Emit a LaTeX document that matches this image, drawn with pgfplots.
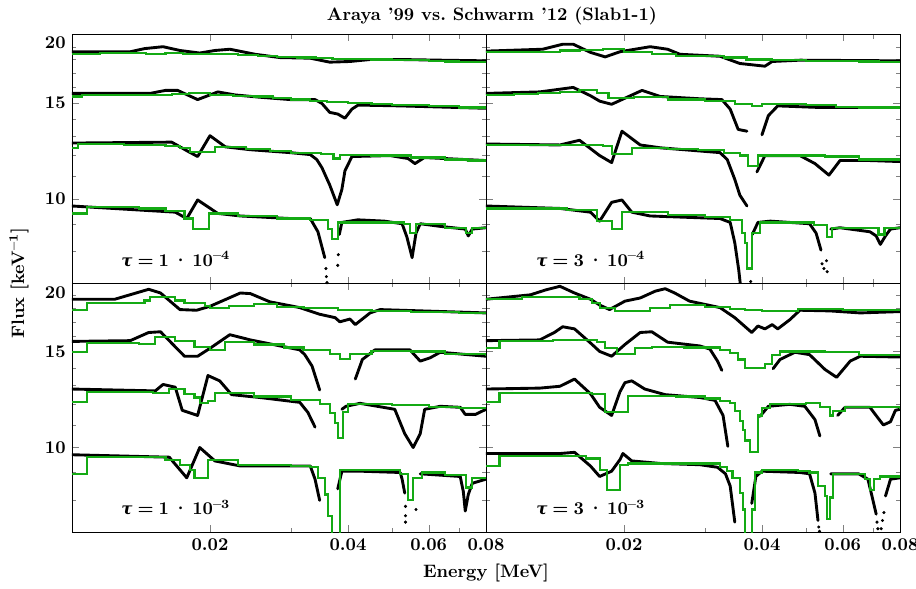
\documentclass[border=0pt]{standalone}
\usepackage{fontspec}
\usepackage{pgfplots}
\pgfplotsset{compat=1.18}
\newfontfamily\gkfont[Scale=0.92]{DejaVu Serif}
\definecolor{sgreen}{RGB}{20,170,20}

\tikzset{
  blk/.style={black, line width=1.6pt, line join=round, line cap=round},
  grn/.style={sgreen, line width=1.2pt},
  dts/.style={black, mark=*, mark size=0.65pt},
}
\newcommand{\taulab}[2]{{\gkfont\bfseries\itshape τ}\hspace{0.28em}\textbf{=}\hspace{0.28em}\textbf{#1}\hspace{0.2em}\textbf{·}\hspace{0.2em}\textbf{10\textsuperscript{–#2}}}

\begin{document}
\begin{tikzpicture}

% ---------- top left: tau = 1e-4
\begin{axis}[at={(40pt,169.3pt)}, anchor=south west,
    scale only axis, width=230pt, height=138.2pt,
    xmode=log, ymode=log, xmin=0.01, xmax=0.08, ymin=7, ymax=20,
    xtick={0.02,0.04,0.06,0.08}, minor xtick={0.03,0.05,0.07},
    ytick={10,15,20}, minor ytick={7,8,9,11,12,13,14,16,17,18,19},
    tick align=inside, major tick length=3.7pt, minor tick length=2.2pt,
    xticklabels={}, yticklabels={\textbf{10},\textbf{15},{}}]
\addplot[blk, no marks] coordinates {(0.0100,18.6) (0.0134,18.6) (0.0144,18.85) (0.0158,19.0) (0.0172,18.7) (0.0190,18.5) (0.0205,18.7) (0.0221,18.8) (0.0251,18.4) (0.0284,18.15) (0.0331,18.1) (0.0365,17.8) (0.0404,17.85) (0.0447,18.0) (0.0520,18.0) (0.0636,17.95) (0.0800,17.9)};
\addplot[grn, const plot, no marks] coordinates {(0.0100,18.45) (0.0115,18.5) (0.0130,18.5) (0.0145,18.45) (0.0160,18.5) (0.0175,18.45) (0.0190,18.45) (0.0210,18.4) (0.0230,18.35) (0.0255,18.3) (0.0280,18.2) (0.0310,18.15) (0.0340,18.1) (0.0370,18.05) (0.0400,18.05) (0.0450,18.0) (0.0500,17.95) (0.0550,17.95) (0.0600,17.9) (0.0650,17.85) (0.0700,17.8) (0.0750,17.8) (0.0800,17.75)};
\addplot[blk, no marks] coordinates {(0.0100,15.6) (0.0148,15.6) (0.0160,15.8) (0.0170,15.8) (0.0188,15.2) (0.0200,15.5) (0.0208,15.7) (0.0227,15.5) (0.0257,15.35) (0.0299,15.2) (0.0339,15.2) (0.0351,14.95) (0.0365,14.4) (0.0380,14.3) (0.0394,14.05) (0.0408,14.6) (0.0421,14.85) (0.0520,14.8) (0.0800,14.65)};
\addplot[grn, const plot, no marks] coordinates {(0.0100,15.4) (0.0105,15.5) (0.0130,15.5) (0.0150,15.5) (0.0165,15.55) (0.0180,15.6) (0.0200,15.5) (0.0225,15.45) (0.0250,15.4) (0.0275,15.3) (0.0300,15.2) (0.0330,15.1) (0.0360,15.05) (0.0400,15.0) (0.0450,14.9) (0.0500,14.85) (0.0600,14.8) (0.0700,14.7) (0.0800,14.6)};
\addplot[blk, no marks] coordinates {(0.0100,12.65) (0.0165,12.7) (0.0178,12.25) (0.0188,11.95) (0.0200,13.05) (0.0216,12.45) (0.0245,12.3) (0.0299,12.15) (0.0331,12.05) (0.0342,11.8) (0.0351,11.4) (0.0365,10.6) (0.0379,9.75) (0.0388,10.4) (0.0394,11.25) (0.0408,11.95) (0.0494,12.0) (0.0541,11.85) (0.0560,11.6) (0.0587,11.9) (0.0800,11.75)};
\addplot[grn, const plot, no marks] coordinates {(0.0100,12.4) (0.0103,12.6) (0.0130,12.55) (0.0160,12.5) (0.0172,12.4) (0.0181,12.2) (0.0205,12.45) (0.0240,12.35) (0.0270,12.25) (0.0300,12.15) (0.0350,12.1) (0.0372,11.85) (0.0385,12.05) (0.0450,12.0) (0.0550,11.9) (0.0650,11.8) (0.0730,11.75) (0.0800,11.7)};
\addplot[blk, no marks] coordinates {(0.0100,9.7) (0.0168,9.45) (0.0178,9.2) (0.0188,9.95) (0.0208,9.4) (0.0233,9.3) (0.0299,9.2) (0.0331,9.2) (0.0344,8.7) (0.0356,7.8)};
\addplot[blk, no marks] coordinates {(0.0383,8.6) (0.0388,9.05) (0.0420,9.15) (0.0480,9.1) (0.0525,9.0) (0.0538,8.5) (0.0552,7.8) (0.0563,8.65) (0.0575,9.0) (0.0636,8.9) (0.0721,8.8) (0.0732,8.55) (0.0747,8.8) (0.0800,8.85)};
\addplot[dts, only marks] coordinates {(0.0358,7.45) (0.0359,7.2) (0.0360,7.02) (0.0380,7.55) (0.0381,7.9)};
\addplot[grn, const plot, no marks] coordinates {(0.0100,9.4) (0.0108,9.65) (0.0140,9.6) (0.0160,9.5) (0.0176,9.2) (0.0184,8.8) (0.0199,9.4) (0.0230,9.3) (0.0280,9.2) (0.0330,9.15) (0.0362,8.8) (0.0369,8.45) (0.0380,9.05) (0.0450,9.05) (0.0530,9.0) (0.0546,8.65) (0.0563,9.0) (0.0650,8.85) (0.0725,8.65) (0.0745,8.85) (0.0800,8.8)};
\end{axis}

% ---------- top right: tau = 3e-4
\begin{axis}[at={(270pt,169.3pt)}, anchor=south west,
    scale only axis, width=230pt, height=138.2pt,
    xmode=log, ymode=log, xmin=0.01, xmax=0.08, ymin=7, ymax=20,
    xtick={0.02,0.04,0.06,0.08}, minor xtick={0.03,0.05,0.07},
    ytick={10,15,20}, minor ytick={7,8,9,11,12,13,14,16,17,18,19},
    tick align=inside, major tick length=3.7pt, minor tick length=2.2pt,
    xticklabels={}, yticklabels={}]
\addplot[blk, no marks] coordinates {(0.0100,18.65) (0.0133,18.8) (0.0147,19.2) (0.0155,19.2) (0.0169,18.55) (0.0182,18.2) (0.0196,18.6) (0.0228,19.0) (0.0249,18.8) (0.0265,18.4) (0.0324,18.25) (0.0358,17.7) (0.0406,17.5) (0.0421,17.85) (0.0484,17.95) (0.0800,17.9)};
\addplot[grn, const plot, no marks] coordinates {(0.0100,18.6) (0.0115,18.6) (0.0130,18.6) (0.0145,18.7) (0.0160,18.75) (0.0180,18.8) (0.0200,18.55) (0.0230,18.4) (0.0260,18.3) (0.0290,18.25) (0.0330,18.15) (0.0370,18.0) (0.0420,17.95) (0.0500,17.9) (0.0580,17.9) (0.0650,17.85) (0.0720,17.8) (0.0800,17.8)};
\addplot[blk, no marks] coordinates {(0.0100,15.6) (0.0131,15.7) (0.0155,16.0) (0.0169,15.45) (0.0177,15.1) (0.0188,14.9) (0.0219,15.8) (0.0240,15.4) (0.0293,15.25) (0.0327,15.2) (0.0341,14.6) (0.0355,13.4) (0.0371,13.3)};
\addplot[blk, no marks] coordinates {(0.0400,13.1) (0.0413,14.2) (0.0433,14.8) (0.0535,14.7) (0.0800,14.7)};
\addplot[grn, const plot, no marks] coordinates {(0.0100,15.5) (0.0115,15.55) (0.0130,15.6) (0.0145,15.7) (0.0160,15.8) (0.0175,15.6) (0.0185,15.3) (0.0210,15.35) (0.0250,15.2) (0.0300,15.1) (0.0350,14.9) (0.0380,14.8) (0.0400,14.9) (0.0450,14.9) (0.0500,14.85) (0.0580,14.75) (0.0650,14.7) (0.0800,14.65)};
\addplot[blk, no marks] coordinates {(0.0100,12.6) (0.0145,12.55) (0.0160,12.8) (0.0177,12.0) (0.0188,11.65) (0.0198,13.3) (0.0217,12.55) (0.0240,12.4) (0.0324,12.15) (0.0336,11.8) (0.0349,10.85) (0.0358,10.15) (0.0371,9.7)};
\addplot[blk, no marks] coordinates {(0.0390,11.2) (0.0406,12.0) (0.0484,12.0) (0.0522,11.6) (0.0560,11.05) (0.0592,11.75) (0.0688,11.75) (0.0800,11.7)};
\addplot[grn, const plot, no marks] coordinates {(0.0100,12.55) (0.0125,12.55) (0.0150,12.55) (0.0180,12.5) (0.0188,12.1) (0.0208,12.4) (0.0250,12.35) (0.0290,12.3) (0.0330,12.15) (0.0358,12.0) (0.0373,11.5) (0.0392,12.0) (0.0450,12.0) (0.0550,11.95) (0.0650,11.8) (0.0800,11.75)};
\addplot[blk, no marks] coordinates {(0.0100,9.7) (0.0145,9.6) (0.0169,9.45) (0.0177,9.1) (0.0188,9.85) (0.0198,9.95) (0.0208,9.45) (0.0228,9.3) (0.0324,9.2) (0.0341,9.05) (0.0349,8.3) (0.0356,7.4) (0.0360,6.8)};
\addplot[blk, no marks] coordinates {(0.0381,8.6) (0.0392,9.05) (0.0417,9.1) (0.0508,9.0) (0.0525,8.65) (0.0538,8.05)};
\addplot[blk, no marks] coordinates {(0.0565,8.8) (0.0592,8.85) (0.0688,8.7) (0.0710,8.55) (0.0725,8.25) (0.0744,8.55) (0.0763,8.8) (0.0800,8.85)};
\addplot[dts, only marks] coordinates {(0.0378,7.05) (0.0541,7.6) (0.0546,7.45) (0.0553,7.7) (0.0555,7.35)};
\addplot[grn, const plot, no marks] coordinates {(0.0100,9.6) (0.0150,9.55) (0.0175,9.1) (0.0188,8.8) (0.0198,9.45) (0.0250,9.35) (0.0300,9.25) (0.0340,9.15) (0.0362,8.65) (0.0367,8.3) (0.0371,7.45) (0.0380,8.65) (0.0396,9.05) (0.0450,9.05) (0.0520,8.95) (0.0555,8.5) (0.0569,8.85) (0.0650,8.85) (0.0718,8.6) (0.0740,8.85) (0.0800,8.85)};
\end{axis}

% ---------- bottom left: tau = 1e-3
\begin{axis}[at={(40pt,31.1pt)}, anchor=south west,
    scale only axis, width=230pt, height=138.2pt,
    xmode=log, ymode=log, xmin=0.01, xmax=0.08, ymin=7, ymax=20,
    xtick={0.02,0.04,0.06,0.08}, minor xtick={0.03,0.05,0.07},
    ytick={10,15,20}, minor ytick={7,8,9,11,12,13,14,16,17,18,19},
    tick align=inside, major tick length=3.7pt, minor tick length=2.2pt,
    xticklabels={\textbf{0.02},\textbf{0.04},\textbf{0.06},\textbf{0.08}},
    yticklabels={\textbf{10},\textbf{15},{}}]
\addplot[blk, no marks] coordinates {(0.0100,18.7) (0.0124,18.7) (0.0147,19.5) (0.0156,19.2) (0.0172,17.9) (0.0187,17.85) (0.0200,18.15) (0.0233,19.2) (0.0245,19.15) (0.0270,18.5) (0.0314,18.05) (0.0347,17.55) (0.0375,17.3) (0.0384,17.0) (0.0404,17.2) (0.0415,16.8) (0.0447,17.65) (0.0470,17.9) (0.0800,17.65)};
\addplot[grn, const plot, no marks] coordinates {(0.0100,17.9) (0.0108,18.4) (0.0130,18.4) (0.0144,18.6) (0.0148,18.85) (0.0168,18.6) (0.0176,18.4) (0.0195,18.2) (0.0200,18.0) (0.0220,18.2) (0.0250,18.35) (0.0280,18.1) (0.0320,18.0) (0.0380,17.9) (0.0450,17.8) (0.0550,17.75) (0.0700,17.65) (0.0800,17.65)};
\addplot[blk, no marks] coordinates {(0.0100,15.65) (0.0134,15.7) (0.0147,16.25) (0.0156,16.3) (0.0176,14.7) (0.0188,14.7) (0.0200,15.2) (0.0221,16.1) (0.0245,15.75) (0.0314,15.1) (0.0322,14.8) (0.0334,14.1) (0.0347,12.75)};
\addplot[blk, no marks] coordinates {(0.0415,13.35) (0.0430,14.5) (0.0458,15.1) (0.0546,15.1) (0.0575,14.4) (0.0604,14.6) (0.0636,14.95) (0.0800,14.7)};
\addplot[grn, const plot, no marks] coordinates {(0.0100,14.95) (0.0108,15.55) (0.0140,15.5) (0.0152,15.95) (0.0168,15.7) (0.0185,15.3) (0.0200,15.1) (0.0216,15.6) (0.0250,15.45) (0.0290,15.25) (0.0320,15.1) (0.0365,14.85) (0.0384,14.55) (0.0404,14.85) (0.0450,15.05) (0.0550,15.0) (0.0650,14.85) (0.0800,14.7)};
\addplot[blk, no marks] coordinates {(0.0100,12.8) (0.0152,12.7) (0.0158,13.05) (0.0168,12.9) (0.0174,11.7) (0.0188,11.45) (0.0198,13.55) (0.0210,13.25) (0.0223,12.5) (0.0257,12.35) (0.0314,12.1) (0.0327,11.6) (0.0339,10.9)};
\addplot[blk, no marks] coordinates {(0.0388,11.75) (0.0396,11.9) (0.0425,12.05) (0.0506,11.75) (0.0532,10.6) (0.0555,10.0) (0.0575,10.6) (0.0588,11.75) (0.0636,11.9) (0.0703,11.85) (0.0721,11.5) (0.0759,11.5) (0.0800,11.75)};
\addplot[grn, const plot, no marks] coordinates {(0.0100,12.1) (0.0108,12.65) (0.0150,12.6) (0.0163,12.8) (0.0176,12.55) (0.0185,12.35) (0.0190,12.05) (0.0198,12.15) (0.0205,12.6) (0.0250,12.4) (0.0300,12.2) (0.0347,12.0) (0.0365,11.55) (0.0375,11.1) (0.0380,10.4) (0.0390,11.6) (0.0400,12.0) (0.0500,11.95) (0.0600,11.85) (0.0700,11.8) (0.0800,11.8)};
\addplot[blk, no marks] coordinates {(0.0100,9.7) (0.0163,9.6) (0.0178,8.8) (0.0190,10.0) (0.0205,9.45) (0.0233,9.25) (0.0331,9.25) (0.0339,8.75) (0.0347,8.0)};
\addplot[blk, no marks] coordinates {(0.0380,8.4) (0.0388,9.05) (0.0425,9.05) (0.0520,9.0) (0.0525,8.75) (0.0532,8.25)};
\addplot[blk, no marks] coordinates {(0.0575,8.95) (0.0703,8.85) (0.0714,8.3) (0.0721,7.65) (0.0732,8.2) (0.0747,8.6) (0.0800,8.75)};
\addplot[dts, only marks] coordinates {(0.0534,7.8) (0.0534,7.5) (0.0534,7.3) (0.0563,7.7)};
\addplot[grn, const plot, no marks] coordinates {(0.0100,8.95) (0.0108,9.6) (0.0160,9.5) (0.0172,9.3) (0.0181,9.1) (0.0185,8.8) (0.0198,9.5) (0.0230,9.3) (0.0300,9.25) (0.0330,9.2) (0.0344,8.8) (0.0356,8.2) (0.0362,7.5) (0.0369,6.5) (0.0384,9.1) (0.0450,9.1) (0.0520,8.95) (0.0541,8.0) (0.0555,8.8) (0.0580,9.0) (0.0650,8.9) (0.0725,8.45) (0.0747,8.8) (0.0800,8.75)};
\end{axis}

% ---------- bottom right: tau = 3e-3
\begin{axis}[at={(270pt,31.1pt)}, anchor=south west,
    scale only axis, width=230pt, height=138.2pt,
    xmode=log, ymode=log, xmin=0.01, xmax=0.08, ymin=7, ymax=20,
    xtick={0.02,0.04,0.06,0.08}, minor xtick={0.03,0.05,0.07},
    ytick={10,15,20}, minor ytick={7,8,9,11,12,13,14,16,17,18,19},
    tick align=inside, major tick length=3.7pt, minor tick length=2.2pt,
    xticklabels={\textbf{0.02},\textbf{0.04},\textbf{0.06},\textbf{0.08}},
    yticklabels={}]
\addplot[blk, no marks] coordinates {(0.0100,18.7) (0.0125,19.05) (0.0135,19.45) (0.0145,19.75) (0.0156,19.2) (0.0169,18.7) (0.0177,18.25) (0.0186,17.9) (0.0201,18.55) (0.0217,18.8) (0.0234,19.35) (0.0246,19.55) (0.0258,19.2) (0.0278,18.55) (0.0324,18.05) (0.0349,17.3) (0.0380,16.25) (0.0392,16.7) (0.0406,16.5) (0.0421,16.8) (0.0433,16.5) (0.0460,17.15) (0.0484,17.85) (0.0563,17.8) (0.0655,17.65) (0.0800,17.75)};
\addplot[grn, const plot, no marks] coordinates {(0.0100,18.7) (0.0120,18.85) (0.0140,18.9) (0.0160,18.75) (0.0170,18.4) (0.0177,18.05) (0.0191,17.8) (0.0228,18.05) (0.0252,18.25) (0.0300,18.1) (0.0340,17.95) (0.0367,17.85) (0.0400,17.8) (0.0480,17.95) (0.0600,17.85) (0.0800,17.8)};
\addplot[blk, no marks] coordinates {(0.0100,15.7) (0.0131,15.75) (0.0141,16.25) (0.0147,16.65) (0.0156,16.5) (0.0169,15.55) (0.0177,15.0) (0.0188,14.7) (0.0201,15.45) (0.0217,16.25) (0.0230,16.3) (0.0249,15.6) (0.0293,15.35) (0.0308,15.15) (0.0320,14.4) (0.0327,13.85)};
\addplot[blk, no marks] coordinates {(0.0423,13.95) (0.0438,14.5) (0.0472,14.95) (0.0508,14.8) (0.0549,13.9) (0.0582,13.45) (0.0623,14.4) (0.0655,14.7) (0.0800,14.65)};
\addplot[grn, const plot, no marks] coordinates {(0.0100,15.2) (0.0107,15.65) (0.0140,15.75) (0.0175,15.6) (0.0182,15.2) (0.0193,14.85) (0.0211,15.2) (0.0230,15.3) (0.0270,15.25) (0.0324,15.1) (0.0341,14.9) (0.0355,14.5) (0.0367,14.0) (0.0406,14.25) (0.0421,14.8) (0.0438,15.0) (0.0550,14.95) (0.0650,14.8) (0.0800,14.7)};
\addplot[blk, no marks] coordinates {(0.0100,12.8) (0.0131,12.85) (0.0145,12.95) (0.0156,13.35) (0.0169,12.55) (0.0177,11.85) (0.0188,11.45) (0.0196,12.65) (0.0201,13.15) (0.0208,13.25) (0.0222,12.8) (0.0246,12.5) (0.0293,12.35) (0.0316,12.2) (0.0329,11.45) (0.0337,10.05)};
\addplot[blk, no marks] coordinates {(0.0396,11.4) (0.0413,11.9) (0.0460,12.0) (0.0496,11.9) (0.0522,11.25) (0.0535,10.5)};
\addplot[blk, no marks] coordinates {(0.0585,11.45) (0.0607,11.85) (0.0688,11.85) (0.0718,11.3) (0.0736,11.0) (0.0763,11.15) (0.0782,11.7) (0.0800,11.75)};
\addplot[grn, const plot, no marks] coordinates {(0.0100,12.1) (0.0107,12.6) (0.0170,12.55) (0.0182,11.6) (0.0204,12.45) (0.0260,12.4) (0.0300,12.3) (0.0324,12.15) (0.0341,12.05) (0.0349,11.65) (0.0358,11.2) (0.0364,10.75) (0.0367,10.3) (0.0376,9.8) (0.0392,11.45) (0.0400,11.8) (0.0417,12.0) (0.0500,12.05) (0.0535,11.85) (0.0563,11.45) (0.0572,11.65) (0.0607,11.85) (0.0800,11.75)};
\addplot[blk, no marks] coordinates {(0.0100,9.75) (0.0145,9.75) (0.0156,9.8) (0.0169,9.25) (0.0177,8.85) (0.0188,9.05) (0.0196,9.5) (0.0199,9.75) (0.0208,9.45) (0.0240,9.35) (0.0293,9.3) (0.0320,9.2) (0.0333,8.95) (0.0341,8.5) (0.0349,7.3)};
\addplot[blk, no marks] coordinates {(0.0380,7.9) (0.0388,8.85) (0.0400,9.05) (0.0484,9.0) (0.0508,8.95) (0.0522,8.25) (0.0530,7.35)};
\addplot[blk, no marks] coordinates {(0.0565,8.95) (0.0650,8.95) (0.0681,8.75) (0.0695,8.15) (0.0710,7.55)};
\addplot[blk, no marks] coordinates {(0.0744,8.15) (0.0763,8.75) (0.0800,8.8)};
\addplot[dts, only marks] coordinates {(0.0532,7.15) (0.0534,7.02) (0.0713,7.3) (0.0716,7.1) (0.0728,7.1) (0.0733,7.35) (0.0738,7.6)};
\addplot[grn, const plot, no marks] coordinates {(0.0100,9.25) (0.0107,9.65) (0.0165,9.55) (0.0177,9.1) (0.0184,8.35) (0.0196,9.3) (0.0204,9.35) (0.0300,9.35) (0.0324,9.2) (0.0336,9.05) (0.0345,8.8) (0.0358,8.25) (0.0364,7.7) (0.0367,6.5) (0.0380,7.7) (0.0386,9.0) (0.0400,9.1) (0.0480,9.05) (0.0508,9.0) (0.0530,8.5) (0.0549,8.15) (0.0555,7.4) (0.0563,8.1) (0.0572,8.95) (0.0650,8.95) (0.0671,8.75) (0.0688,8.35) (0.0703,8.75) (0.0725,8.85) (0.0800,8.85)};
\end{axis}

% labels drawn outside the axes
\node[anchor=east] at (40pt,302.8pt) {\textbf{20}};
\node[anchor=east] at (40pt,163.9pt) {\textbf{20}};
\node[anchor=base west] at (63.9pt,178.7pt) {\taulab{1}{4}};
\node[anchor=base west] at (294.4pt,178.7pt) {\taulab{3}{4}};
\node[anchor=base west] at (63.9pt,40.8pt) {\taulab{1}{3}};
\node[anchor=base west] at (294.4pt,40.8pt) {\taulab{3}{3}};
\node[font=\bfseries] at (273.3pt,317.8pt) {Araya ’99 vs.\ Schwarm ’12 (Slab1-1)};
\node[font=\bfseries] at (270pt,8.6pt) {Energy [MeV]};
\node[rotate=90, font=\bfseries] at (10.6pt,169.3pt) {Flux [keV\textsuperscript{–1}]};

\pgfresetboundingbox
\path[use as bounding box] (0pt,0pt) rectangle (508.9pt,326.7pt);
\end{tikzpicture}
\end{document}
